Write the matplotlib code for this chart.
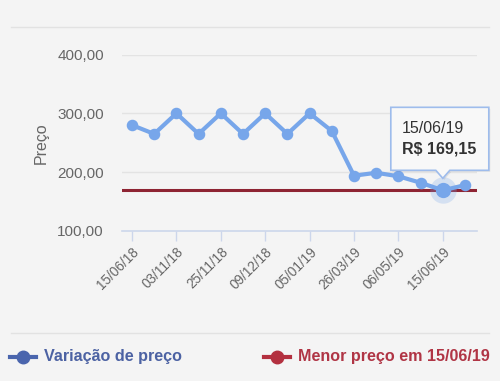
import matplotlib
matplotlib.use("Agg")
import matplotlib.pyplot as plt
from matplotlib.lines import Line2D
from matplotlib.patches import Polygon
from matplotlib import transforms

plt.rcParams["font.family"] = ["Liberation Sans", "DejaVu Sans"]

# price history (R$), one point per observation
prices = [280, 265, 300, 265, 300, 265, 300, 265, 300, 270,
          194, 199, 193, 182, 169.15, 178]
tick_labels = ["15/06/18", "03/11/18", "25/11/18", "09/12/18",
               "05/01/19", "26/03/19", "06/05/19", "15/06/19"]
tick_idx = [0, 2, 4, 6, 8, 10, 12, 14]
min_price = 169.15
min_idx = 14
min_date = "15/06/19"

BG = "#f4f4f4"
LINE = "#77a6ea"
RED = "#8e2433"
AXIS = "#ccd6eb"
GRID = "#e3e3e3"
TXT = "#666666"

fig = plt.figure(figsize=(5.0, 3.81), dpi=100, facecolor=BG)
ax = fig.add_axes([122 / 500, 150 / 381, 355 / 500, 176.5 / 381], facecolor=BG)

x = list(range(len(prices)))
ax.axhline(min_price, color=RED, lw=2.2, zorder=2)
ax.plot(x, prices, color=LINE, lw=3.0, marker="o", ms=7.3, zorder=3,
        solid_capstyle="round", solid_joinstyle="round")
# hovered point
ax.plot([min_idx], [prices[min_idx]], "o", ms=19, color=LINE, alpha=0.25, zorder=4, mec="none")
ax.plot([min_idx], [prices[min_idx]], "o", ms=11, color=LINE, zorder=5, mec="none")

ax.set_xlim(-0.45, 15.54)
ax.set_ylim(100, 400)
ax.set_yticks([100, 200, 300, 400])
ax.set_yticklabels(["100,00", "200,00", "300,00", "400,00"], fontsize=11, color=TXT)
for yv in [200, 300, 400]:
    ax.axhline(yv, color=GRID, lw=1, zorder=1)
ax.set_xticks(tick_idx)
ax.set_xticklabels(tick_labels, rotation=45, ha="right", rotation_mode="anchor",
                   fontsize=9.8, color=TXT)
ax.tick_params(axis="x", length=7, color=AXIS, width=1, pad=3)
ax.tick_params(axis="y", length=0, pad=13)
for s in ["top", "right", "left"]:
    ax.spines[s].set_visible(False)
ax.spines["bottom"].set_color(AXIS)
ax.spines["bottom"].set_linewidth(1.2)
ax.set_ylabel("Preço", fontsize=11.5, color=TXT, labelpad=6)

# tooltip callout, drawn in pixel offsets from the hovered point
trans = fig.dpi_scale_trans + transforms.ScaledTranslation(min_idx, prices[min_idx], ax.transData)
px = lambda v: v / 100
verts = [(-52, 20), (-7, 20), (0, 12), (7, 20), (46, 20), (46, 83), (-52, 83)]
shadow = Polygon([(px(a + 1.5), px(b - 1.5)) for a, b in verts], closed=True,
                 transform=trans, facecolor="#000000", alpha=0.08, edgecolor="none",
                 zorder=6, clip_on=False)
box = Polygon([(px(a), px(b)) for a, b in verts], closed=True, transform=trans,
              facecolor="#f8f8f8", edgecolor="#9ebcec", lw=1.2, zorder=7, clip_on=False)
ax.add_patch(shadow)
ax.add_patch(box)
ax.text(px(-41), px(62), min_date, transform=trans, fontsize=11.5, color="#333333",
        va="center", ha="left", zorder=8)
ax.text(px(-41), px(41), "R$ " + f"{min_price:.2f}".replace(".", ","), transform=trans,
        fontsize=11.5, color="#333333", fontweight="bold", va="center", ha="left", zorder=8)

# separator lines
fig.add_artist(Line2D([11 / 500, 489 / 500], [1 - 27 / 381] * 2, color="#e2e2e2", lw=1))
fig.add_artist(Line2D([11 / 500, 489 / 500], [1 - 333 / 381] * 2, color="#e2e2e2", lw=1))

# legend
ly = 1 - 357 / 381
for x0, col, tcol, label in [(10, "#4a65ad", "#4c62a3", "Variação de preço"),
                             (264, "#b3303f", "#b03545", f"Menor preço em {min_date}")]:
    fig.add_artist(Line2D([x0 / 500, (x0 + 26) / 500], [ly, ly], color=col, lw=3))
    fig.add_artist(Line2D([(x0 + 13) / 500], [ly], marker="o", ms=9, color=col))
    fig.text((x0 + 34) / 500, ly, label, fontsize=11.6, fontweight="bold", color=tcol,
             va="center", ha="left")

fig.savefig("out.png", dpi=100, facecolor=BG)
